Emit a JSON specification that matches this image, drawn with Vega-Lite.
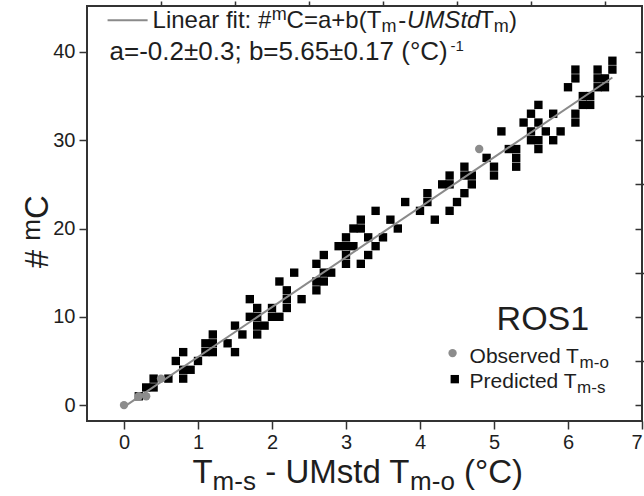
{
  "$schema": "https://vega.github.io/schema/vega-lite/v6.json",
  "width": 555,
  "height": 415,
  "autosize": {"type": "none"},
  "padding": {"left": 87, "top": 6, "right": 2, "bottom": 75},
  "background": "white",
  "config": {
    "font": "Liberation Sans",
    "view": {"stroke": "#333333", "strokeWidth": 2},
    "axis": {"grid": false, "domain": false, "tickColor": "#333333", "tickWidth": 1.5, "labelColor": "#1e1e1e", "labelFont": "Liberation Sans", "labelFontSize": 20, "title": null}
  },
  "datasets": {
    "pred": [{"x":0.2,"y":1},{"x":0.3,"y":2},{"x":0.4,"y":3},{"x":0.4,"y":2},{"x":0.6,"y":3},{"x":0.7,"y":5},{"x":0.8,"y":6},{"x":0.8,"y":4},{"x":0.8,"y":3},{"x":0.9,"y":4},{"x":1.0,"y":5},{"x":1.1,"y":6},{"x":1.1,"y":7},{"x":1.2,"y":7},{"x":1.2,"y":6},{"x":1.2,"y":8},{"x":1.4,"y":7},{"x":1.5,"y":6},{"x":1.5,"y":9},{"x":1.6,"y":8},{"x":1.7,"y":12},{"x":1.7,"y":10},{"x":1.8,"y":11},{"x":1.8,"y":10},{"x":1.8,"y":9},{"x":1.8,"y":8},{"x":1.9,"y":9},{"x":2.0,"y":11},{"x":2.0,"y":10},{"x":2.1,"y":10},{"x":2.1,"y":14},{"x":2.2,"y":11},{"x":2.2,"y":12},{"x":2.2,"y":13},{"x":2.3,"y":15},{"x":2.4,"y":12},{"x":2.6,"y":16},{"x":2.6,"y":14},{"x":2.6,"y":13},{"x":2.7,"y":17},{"x":2.7,"y":15},{"x":2.7,"y":14},{"x":2.8,"y":15},{"x":2.9,"y":18},{"x":3.0,"y":19},{"x":3.0,"y":18},{"x":3.0,"y":17},{"x":3.0,"y":16},{"x":3.1,"y":20},{"x":3.1,"y":18},{"x":3.2,"y":21},{"x":3.2,"y":20},{"x":3.2,"y":16},{"x":3.3,"y":19},{"x":3.3,"y":17},{"x":3.4,"y":18},{"x":3.4,"y":22},{"x":3.5,"y":19},{"x":3.6,"y":21},{"x":3.7,"y":20},{"x":3.8,"y":23},{"x":4.0,"y":22},{"x":4.1,"y":24},{"x":4.1,"y":23},{"x":4.2,"y":21},{"x":4.3,"y":25},{"x":4.4,"y":26},{"x":4.4,"y":25},{"x":4.4,"y":22},{"x":4.5,"y":23},{"x":4.6,"y":24},{"x":4.6,"y":27},{"x":4.6,"y":26},{"x":4.7,"y":26},{"x":4.7,"y":25},{"x":4.9,"y":28},{"x":5.0,"y":27},{"x":5.0,"y":26},{"x":5.1,"y":31},{"x":5.2,"y":29},{"x":5.3,"y":29},{"x":5.3,"y":28},{"x":5.3,"y":27},{"x":5.4,"y":32},{"x":5.5,"y":33},{"x":5.5,"y":31},{"x":5.5,"y":30},{"x":5.6,"y":34},{"x":5.6,"y":32},{"x":5.6,"y":30},{"x":5.6,"y":29},{"x":5.7,"y":31},{"x":5.8,"y":33},{"x":5.8,"y":30},{"x":5.9,"y":31},{"x":6.0,"y":36},{"x":6.1,"y":33},{"x":6.1,"y":32},{"x":6.2,"y":35},{"x":6.2,"y":34},{"x":6.3,"y":35},{"x":6.3,"y":34},{"x":6.4,"y":36},{"x":6.4,"y":37},{"x":6.1,"y":37},{"x":6.1,"y":38},{"x":6.4,"y":38},{"x":6.5,"y":37},{"x":6.5,"y":36},{"x":6.6,"y":38},{"x":6.6,"y":39}],
    "obs": [{"x":0,"y":0},{"x":0.2,"y":1},{"x":0.3,"y":1},{"x":0.5,"y":3},{"x":4.8,"y":29}],
    "fit": [{"x":0,"y":-0.2},{"x":6.6,"y":37.1}],
    "legline": [{"x":-0.222,"y":43.59},{"x":0.319,"y":43.59}],
    "legobs": [{"x":4.44,"y":5.89}],
    "legpred": [{"x":4.47,"y":2.94}],
    "t_main24": [{"t":"Linear fit: #","x":0.386,"y":42.68},{"t":"C=a+b(T","x":2.197,"y":42.68},{"t":"-","x":3.705,"y":42.68},{"t":"T","x":4.799,"y":42.68},{"t":")","x":5.204,"y":42.68}],
    "t_row2": [{"t":"a=-0.2±0.3; b=5.65±0.17 (°C)","x":-0.195,"y":39.05}],
    "t_sup18": [{"t":"m","x":1.995,"y":43.59}],
    "t_sub18": [{"t":"m","x":3.481,"y":42.2},{"t":"m","x":4.997,"y":42.2}],
    "t_ital24": [{"t":"UMStd","x":3.825,"y":42.68}],
    "t_sup15": [{"t":"-1","x":4.413,"y":40.1}],
    "t_ros": [{"t":"ROS1","x":5.035,"y":8.49}],
    "t_leg21": [{"t":"Observed T","x":4.67,"y":4.75},{"t":"Predicted T","x":4.67,"y":1.92}],
    "t_legsub": [{"t":"m-o","x":6.157,"y":4.19},{"t":"m-s","x":6.123,"y":1.36}],
    "t_xt": [{"t":"T","x":0.927,"y":-8.83},{"t":"- UMstd T","x":1.909,"y":-8.83},{"t":"(°C)","x":4.596,"y":-8.83}],
    "t_xtsub": [{"t":"m-s","x":1.197,"y":-9.62},{"t":"m-o","x":3.866,"y":-9.62}],
    "t_yt": [{"t":"#","x":-1.032,"y":15.51},{"t":"C","x":-1.032,"y":21.08}],
    "t_ytsup": [{"t":"m","x":-1.141,"y":18.62}]
  },
  "layer": [
    {
      "data": {"name": "pred"},
      "mark": {"type": "square", "size": 70, "color": "#000000", "opacity": 1},
      "encoding": {
        "x": {"field": "x", "type": "quantitative", "scale": {"domain": [-0.5, 7], "nice": false, "zero": false}, "axis": {"values": [0,1,2,3,4,5,6,7], "tickSize": 8, "labelPadding": 3, "title": null}},
        "y": {"field": "y", "type": "quantitative", "scale": {"domain": [-1.8, 45.2], "nice": false, "zero": false}, "axis": {"values": [0,10,20,30,40], "tickSize": 8, "labelPadding": 4, "title": null}}
      }
    },
    {
      "data": {"name": "fit"},
      "mark": {"type": "line", "color": "#8a8a8a", "strokeWidth": 2},
      "encoding": {
        "x": {"field": "x", "type": "quantitative", "scale": {"domain": [-0.5, 7], "nice": false, "zero": false}, "axis": {"values": [0.5,1.5,2.5,3.5,4.5,5.5,6.5], "tickSize": 5, "labels": false, "title": null}},
        "y": {"field": "y", "type": "quantitative", "scale": {"domain": [-1.8, 45.2], "nice": false, "zero": false}, "axis": {"values": [5,15,25,35], "tickSize": 5, "labels": false, "title": null}}
      }
    },
    {
      "data": {"name": "obs"},
      "mark": {"type": "circle", "size": 70, "color": "#8c8c8c", "opacity": 1},
      "encoding": {
        "x": {"field": "x", "type": "quantitative", "scale": {"domain": [-0.5, 7], "nice": false, "zero": false}, "axis": null},
        "y": {"field": "y", "type": "quantitative", "scale": {"domain": [-1.8, 45.2], "nice": false, "zero": false}, "axis": {"orient": "right", "values": [0,5,10,15,20,25,30,35,40], "tickSize": -7, "labels": false, "title": null}}
      }
    },
    {
      "data": {"name": "legline"},
      "mark": {"type": "line", "color": "#8a8a8a", "strokeWidth": 2},
      "encoding": {"x": {"field": "x", "type": "quantitative", "axis": null}, "y": {"field": "y", "type": "quantitative", "axis": null}}
    },
    {
      "data": {"name": "legobs"},
      "mark": {"type": "circle", "size": 70, "color": "#8c8c8c", "opacity": 1},
      "encoding": {"x": {"field": "x", "type": "quantitative", "axis": null}, "y": {"field": "y", "type": "quantitative", "axis": null}}
    },
    {
      "data": {"name": "legpred"},
      "mark": {"type": "square", "size": 70, "color": "#000000", "opacity": 1},
      "encoding": {"x": {"field": "x", "type": "quantitative", "axis": null}, "y": {"field": "y", "type": "quantitative", "axis": null}}
    },
    {
      "data": {"name": "t_main24"},
      "mark": {"type": "text", "align": "left", "baseline": "alphabetic", "fontSize": 24, "color": "#1e1e1e"},
      "encoding": {"x": {"field": "x", "type": "quantitative", "axis": null}, "y": {"field": "y", "type": "quantitative", "axis": null}, "text": {"field": "t"}}
    },
    {
      "data": {"name": "t_row2"},
      "mark": {"type": "text", "align": "left", "baseline": "alphabetic", "fontSize": 26, "color": "#1e1e1e"},
      "encoding": {"x": {"field": "x", "type": "quantitative", "axis": null}, "y": {"field": "y", "type": "quantitative", "axis": null}, "text": {"field": "t"}}
    },
    {
      "data": {"name": "t_sup18"},
      "mark": {"type": "text", "align": "left", "baseline": "alphabetic", "fontSize": 18, "color": "#1e1e1e"},
      "encoding": {"x": {"field": "x", "type": "quantitative", "axis": null}, "y": {"field": "y", "type": "quantitative", "axis": null}, "text": {"field": "t"}}
    },
    {
      "data": {"name": "t_sub18"},
      "mark": {"type": "text", "align": "left", "baseline": "alphabetic", "fontSize": 18, "color": "#1e1e1e"},
      "encoding": {"x": {"field": "x", "type": "quantitative", "axis": null}, "y": {"field": "y", "type": "quantitative", "axis": null}, "text": {"field": "t"}}
    },
    {
      "data": {"name": "t_ital24"},
      "mark": {"type": "text", "align": "left", "baseline": "alphabetic", "fontSize": 24, "fontStyle": "italic", "color": "#1e1e1e"},
      "encoding": {"x": {"field": "x", "type": "quantitative", "axis": null}, "y": {"field": "y", "type": "quantitative", "axis": null}, "text": {"field": "t"}}
    },
    {
      "data": {"name": "t_sup15"},
      "mark": {"type": "text", "align": "left", "baseline": "alphabetic", "fontSize": 15, "color": "#1e1e1e"},
      "encoding": {"x": {"field": "x", "type": "quantitative", "axis": null}, "y": {"field": "y", "type": "quantitative", "axis": null}, "text": {"field": "t"}}
    },
    {
      "data": {"name": "t_ros"},
      "mark": {"type": "text", "align": "left", "baseline": "alphabetic", "fontSize": 34, "color": "#1e1e1e"},
      "encoding": {"x": {"field": "x", "type": "quantitative", "axis": null}, "y": {"field": "y", "type": "quantitative", "axis": null}, "text": {"field": "t"}}
    },
    {
      "data": {"name": "t_leg21"},
      "mark": {"type": "text", "align": "left", "baseline": "alphabetic", "fontSize": 21, "color": "#1e1e1e"},
      "encoding": {"x": {"field": "x", "type": "quantitative", "axis": null}, "y": {"field": "y", "type": "quantitative", "axis": null}, "text": {"field": "t"}}
    },
    {
      "data": {"name": "t_legsub"},
      "mark": {"type": "text", "align": "left", "baseline": "alphabetic", "fontSize": 17, "color": "#1e1e1e"},
      "encoding": {"x": {"field": "x", "type": "quantitative", "axis": null}, "y": {"field": "y", "type": "quantitative", "axis": null}, "text": {"field": "t"}}
    },
    {
      "data": {"name": "t_xt"},
      "mark": {"type": "text", "align": "left", "baseline": "alphabetic", "fontSize": 33, "color": "#1e1e1e"},
      "encoding": {"x": {"field": "x", "type": "quantitative", "axis": null}, "y": {"field": "y", "type": "quantitative", "axis": null}, "text": {"field": "t"}}
    },
    {
      "data": {"name": "t_xtsub"},
      "mark": {"type": "text", "align": "left", "baseline": "alphabetic", "fontSize": 26, "color": "#1e1e1e"},
      "encoding": {"x": {"field": "x", "type": "quantitative", "axis": null}, "y": {"field": "y", "type": "quantitative", "axis": null}, "text": {"field": "t"}}
    },
    {
      "data": {"name": "t_yt"},
      "mark": {"type": "text", "align": "left", "baseline": "alphabetic", "fontSize": 33, "angle": 270, "color": "#1e1e1e"},
      "encoding": {"x": {"field": "x", "type": "quantitative", "axis": null}, "y": {"field": "y", "type": "quantitative", "axis": null}, "text": {"field": "t"}}
    },
    {
      "data": {"name": "t_ytsup"},
      "mark": {"type": "text", "align": "left", "baseline": "alphabetic", "fontSize": 26, "angle": 270, "color": "#1e1e1e"},
      "encoding": {"x": {"field": "x", "type": "quantitative", "axis": null}, "y": {"field": "y", "type": "quantitative", "axis": null}, "text": {"field": "t"}}
    }
  ],
  "resolve": {"axis": {"x": "independent", "y": "independent"}}
}
